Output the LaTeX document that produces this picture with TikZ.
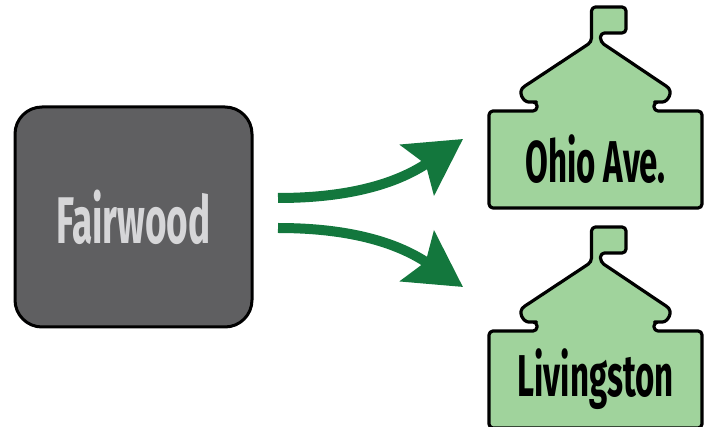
\documentclass[tikz,border=0pt]{standalone}
\usepackage{fontspec}
\setmainfont{Fira Sans}[FakeStretch=0.56]
\usetikzlibrary{arrows.meta}
\definecolor{boxgray}{HTML}{5F5F61}
\definecolor{txtgray}{HTML}{D6D6D8}
\definecolor{housegreen}{HTML}{A0D39C}
\definecolor{arrgreen}{HTML}{13773D}

\begin{document}
\begin{tikzpicture}[x=1pt,y=1pt,
  house/.style={draw=black,fill=housegreen,line width=3.2pt,line join=round,rounded corners=4pt},
  lbl/.style={minimum width=213pt,minimum height=97pt,outer sep=0pt,inner sep=0pt,font=\fontsize{59}{60}\selectfont\bfseries},
  arr/.style={draw=arrgreen,line width=10pt,-{Stealth[length=55pt,width=60pt,inset=10pt]}}]
\useasboundingbox (0,0) rectangle (712,-427);
% source school
\node[draw=black,fill=boxgray,line width=3pt,rounded corners=27pt,minimum width=237pt,minimum height=220pt,outer sep=0pt,
  text=txtgray,font=\fontsize{66}{68}\selectfont\bfseries] (fair) at (133.5,-217) {Fairwood};
% the two schoolhouses
\foreach \n/\y/\t in {ohio/159.5/Ohio Ave.,liv/379.5/Livingston}{
\draw[house,shift={(595.5,-\y)}] (-106.5,-48.5) -- (-106.5,48.5) -- (-58.5,48.5) -- (-58.5,57.5) -- (-63,57.5)
  .. controls (-72,57.5) and (-79,68) .. (-67.5,75.5) -- (-4,117.5) -- (-4,152.5) -- (30.5,152.5)
  -- (30.5,126.5) -- (5,126.5) -- (5,117.5) -- (67.5,75.5)
  .. controls (79,68) and (72,57.5) .. (63,57.5) -- (58.5,57.5) -- (58.5,48.5) -- (106.5,48.5) -- (106.5,-48.5) -- cycle;
\node[lbl] (\n) at (595.5,-\y) {\t};
}
% arrows
\draw[arr] ([xshift=26pt,yshift=19pt]fair.east) to[out=0,in=214] ([xshift=-26pt,yshift=20.5pt]ohio.west);
\draw[arr] ([xshift=26pt,yshift=-11pt]fair.east) to[out=0,in=146] ([xshift=-26pt,yshift=92.5pt]liv.west);
\end{tikzpicture}
\end{document}
